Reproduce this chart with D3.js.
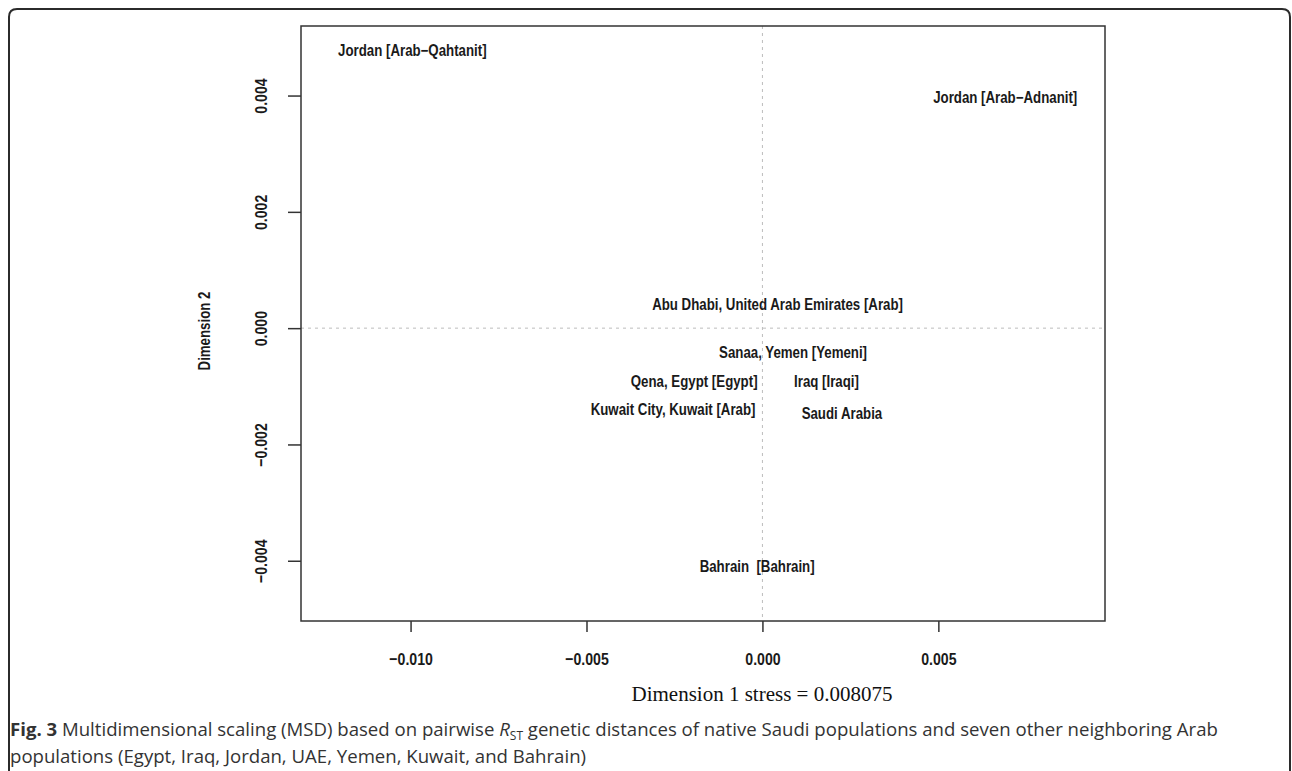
<!DOCTYPE html>
<html>
<head>
<meta charset="utf-8">
<script src="https://cdn.jsdelivr.net/npm/d3@7"></script>
<style>
  body { margin: 0; background: #fff; }
  .lab { font-family: "Liberation Sans", Arial, sans-serif; font-weight: bold; fill: #1a1a1a; }
  .tick text { font-family: "Liberation Sans", Arial, sans-serif; font-weight: bold; font-size: 17px; fill: #1a1a1a; }
  .cap { font-family: "Open Sans", "Noto Sans", sans-serif; font-size: 18.6px; fill: #333; }
</style>
</head>
<body>
<div id="chart"></div>
<script>
// population labels and their MDS coordinates
var populations = [
  "Jordan [Arab\u2212Qahtanit]",
  "Jordan [Arab\u2212Adnanit]",
  "Abu Dhabi, United Arab Emirates [Arab]",
  "Sanaa, Yemen [Yemeni]",
  "Qena, Egypt [Egypt]",
  "Iraq [Iraqi]",
  "Kuwait City, Kuwait [Arab]",
  "Saudi Arabia",
  "Bahrain  [Bahrain]"
];
var dim1 = [-0.00995, 0.00690, 0.00043, 0.00087, -0.00194, 0.00182, -0.00254, 0.00226, -0.00015];
var dim2 = [0.00478, 0.00397, 0.00041, -0.00041, -0.00091, -0.00091, -0.00139, -0.00146, -0.00410];

var xTicks = [-0.010, -0.005, 0.000, 0.005];
var yTicks = [-0.004, -0.002, 0.000, 0.002, 0.004];

var svgWidth = 1292;
var svgHeight = 771;

var margin = { top: 26, right: 187, bottom: 150, left: 301 };
var width = 1105 - margin.left;
var height = 621 - margin.top;

// horizontal squeeze to imitate a narrow font
var narrow = 0.83;

var svg = d3.select("#chart")
  .append("svg")
  .attr("width", svgWidth)
  .attr("height", svgHeight);

// outer figure frame with rounded top corners
svg.append("path")
  .attr("d", "M9,780 L9,17 Q9,9 17,9 L1282,9 Q1290,9 1290,17 L1290,780")
  .attr("fill", "none")
  .attr("stroke", "#2b2b2b")
  .attr("stroke-width", 2);

var chartGroup = svg.append("g")
  .attr("transform", `translate(${margin.left}, ${margin.top})`);

var xScale = d3.scaleLinear()
  .domain([-0.013114, 0.009736])
  .range([0, width]);

var yScale = d3.scaleLinear()
  .domain([-0.005036, 0.005196])
  .range([height, 0]);

// dotted reference lines through zero
chartGroup.append("line")
  .attr("x1", xScale(0)).attr("x2", xScale(0))
  .attr("y1", 0).attr("y2", height)
  .attr("stroke", "#bdbdbd")
  .attr("stroke-dasharray", "3,4");

chartGroup.append("line")
  .attr("x1", 0).attr("x2", width)
  .attr("y1", yScale(0)).attr("y2", yScale(0))
  .attr("stroke", "#bdbdbd")
  .attr("stroke-dasharray", "3,4");

// axes
var bottomAxis = d3.axisBottom(xScale)
  .tickValues(xTicks)
  .tickFormat(d3.format(".3f"))
  .tickSize(11);

var leftAxis = d3.axisLeft(yScale)
  .tickValues(yTicks)
  .tickFormat(d3.format(".3f"))
  .tickSize(13);

var xAxis = chartGroup.append("g")
  .attr("transform", `translate(0, ${height})`)
  .call(bottomAxis);

var yAxis = chartGroup.append("g")
  .call(leftAxis);

[xAxis, yAxis].forEach(function(ax) {
  ax.select(".domain").remove();
  ax.selectAll(".tick line").attr("stroke", "#333").attr("stroke-width", 1.5);
});

xAxis.selectAll(".tick text")
  .attr("y", null)
  .attr("dy", "0.35em")
  .attr("transform", `translate(0, 38) scale(${narrow}, 1)`);

// rotate y tick labels like R's default las=0
yAxis.selectAll(".tick text")
  .attr("x", null)
  .attr("dy", null)
  .attr("text-anchor", "middle")
  .attr("transform", `translate(-34, 0) rotate(-90) scale(${narrow}, 1)`);

// plot box
chartGroup.append("rect")
  .attr("width", width)
  .attr("height", height)
  .attr("fill", "none")
  .attr("stroke", "#333")
  .attr("stroke-width", 1.5);

// point labels
chartGroup.selectAll(".pop")
  .data(populations)
  .enter()
  .append("text")
  .attr("class", "lab pop")
  .attr("transform", (d, i) => `translate(${xScale(dim1[i])}, ${yScale(dim2[i])}) scale(${narrow}, 1)`)
  .attr("dy", "0.35em")
  .attr("text-anchor", "middle")
  .attr("font-size", 16)
  .style("white-space", "pre")
  .text(d => d);

// axis titles
svg.append("text")
  .attr("x", 762)
  .attr("y", 701)
  .attr("text-anchor", "middle")
  .attr("font-family", "'Liberation Serif', 'Times New Roman', serif")
  .attr("font-size", 21)
  .attr("fill", "#111")
  .text("Dimension 1 stress = 0.008075");

svg.append("text")
  .attr("class", "lab")
  .attr("transform", `translate(210, 331) rotate(-90) scale(${narrow}, 1)`)
  .attr("text-anchor", "middle")
  .attr("font-size", 16)
  .text("Dimension 2");

// caption
var cap1 = svg.append("text")
  .attr("class", "cap")
  .attr("x", 10)
  .attr("y", 736);
cap1.append("tspan").attr("font-weight", "bold").text("Fig. 3");
cap1.append("tspan").text(" Multidimensional scaling (MSD) based on pairwise ");
cap1.append("tspan").attr("font-style", "italic").text("R");
cap1.append("tspan").attr("font-size", 12).attr("dy", 4).text("ST");
cap1.append("tspan").attr("dy", -4).text(" genetic distances of native Saudi populations and seven other neighboring Arab");

svg.append("text")
  .attr("class", "cap")
  .attr("x", 10)
  .attr("y", 763)
  .text("populations (Egypt, Iraq, Jordan, UAE, Yemen, Kuwait, and Bahrain)");
</script>
</body>
</html>
